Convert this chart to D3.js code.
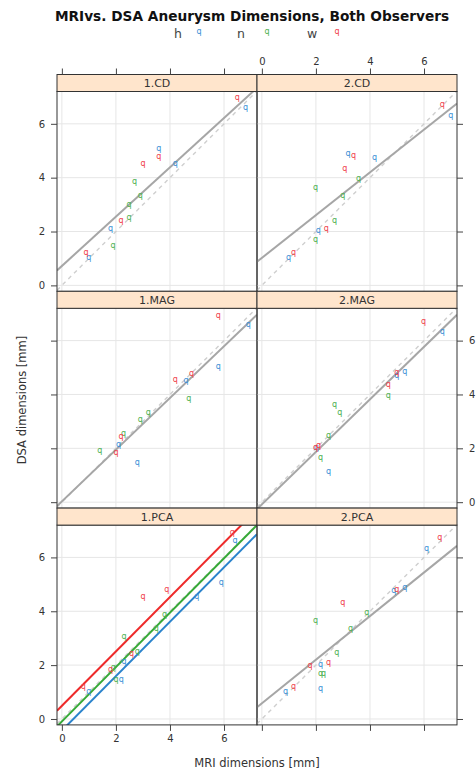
<!DOCTYPE html>
<html>
<head>
<meta charset="utf-8">
<script src="https://cdn.jsdelivr.net/npm/d3@7"></script>
<style>
  html, body { margin: 0; padding: 0; background: #fff; }
  svg { display: block; }
</style>
</head>
<body>
<svg id="chart" width="476" height="777"></svg>
<script>
// ---------- data ----------
const panelNames = ["1.CD", "2.CD", "1.MAG", "2.MAG", "1.PCA", "2.PCA"];
const groups = ["h", "n", "w"];
const groupColors = ["#3a8fd6", "#4cb050", "#f0404a"];
const lineColors = ["#2b83cc", "#36a937", "#ee2a2a"];
const tickValues = [0, 2, 4, 6];

// points [MRI, DSA]
const cd1_h = [[1.0, 0.98], [1.8, 2.07], [3.59, 5.04], [4.2, 4.5], [6.8, 6.56]];
const cd1_n = [[1.89, 1.45], [2.49, 2.49], [2.49, 2.97], [2.69, 3.83], [2.9, 3.29]];
const cd1_w = [[0.89, 1.17], [2.19, 2.37], [3.0, 4.5], [3.59, 4.75], [6.49, 6.93]];

const cd2_h = [[0.99, 0.98], [2.09, 2.0], [3.19, 4.86], [4.17, 4.7], [6.99, 6.28]];
const cd2_n = [[1.99, 1.67], [1.99, 3.59], [2.69, 2.38], [2.99, 3.3], [3.58, 3.93]];
const cd2_w = [[1.17, 1.17], [2.38, 2.07], [3.07, 4.3], [3.39, 4.78], [6.68, 6.68]];

const mag1_h = [[2.1, 2.09], [2.79, 1.44], [4.59, 4.48], [5.79, 4.99], [6.9, 6.54]];
const mag1_n = [[1.4, 1.89], [2.28, 2.5], [2.9, 3.01], [3.2, 3.3], [4.7, 3.81]];
const mag1_w = [[2.0, 1.81], [2.19, 2.41], [4.2, 4.5], [4.8, 4.73], [5.79, 6.9]];

const mag2_h = [[2.01, 2.0], [2.47, 1.1], [4.99, 4.68], [5.29, 4.81], [6.68, 6.28]];
const mag2_n = [[2.17, 1.62], [2.47, 2.43], [2.69, 3.59], [2.88, 3.28], [4.68, 3.91]];
const mag2_w = [[1.99, 1.97], [2.1, 2.08], [4.68, 4.31], [4.99, 4.76], [5.98, 6.67]];

const pca1_h = [[1.0, 0.97], [2.2, 1.44], [2.3, 2.09], [4.99, 4.52], [5.9, 5.04], [6.41, 6.57]];
const pca1_n = [[1.9, 1.86], [2.0, 1.44], [2.3, 3.02], [2.79, 2.47], [3.49, 3.3], [3.8, 3.85]];
const pca1_w = [[0.79, 1.16], [1.8, 1.8], [2.58, 2.39], [3.0, 4.52], [3.88, 4.78], [6.31, 6.9]];

const pca2_h = [[0.88, 0.97], [2.17, 1.09], [2.17, 1.99], [4.88, 4.72], [5.29, 4.83], [6.09, 6.28]];
const pca2_n = [[1.99, 3.6], [2.17, 1.63], [2.28, 1.66], [2.77, 2.41], [3.28, 3.3], [3.88, 3.9]];
const pca2_w = [[1.17, 1.16], [1.78, 1.95], [2.47, 2.06], [2.99, 4.3], [4.99, 4.77], [6.58, 6.68]];

// pooled fit lines (gray), per panel: intercept, slope (null = per-group lines instead)
const fitIntercepts = [0.72, 1.02, 0.03, -0.08, null, 0.58];
const fitSlopes = [0.916, 0.794, 0.96, 0.975, null, 0.81];
// 1.PCA: one line per group (h, n, w), common slope
const pcaGroupIntercepts = [-0.43, -0.09, 0.49];
const pcaGroupSlope = 1.01;

const xDomain = [-0.18, 7.22];
const yDomain = [-0.22, 7.2];

// build table
const panelPoints = [
  [cd1_h, cd1_n, cd1_w], [cd2_h, cd2_n, cd2_w],
  [mag1_h, mag1_n, mag1_w], [mag2_h, mag2_n, mag2_w],
  [pca1_h, pca1_n, pca1_w], [pca2_h, pca2_n, pca2_w]
];

// ---------- layout ----------
const svg = d3.select("#chart");
const left = 57, colW = 200, top0 = 74.5, stripH = 17, panelH = 199.8, rowH = stripH + panelH;
const fontMain = "'DejaVu Sans', Verdana, sans-serif";
const textCol = "#333";

// title
svg.append("text")
  .attr("x", 252).attr("y", 20.5)
  .attr("text-anchor", "middle")
  .attr("font-family", fontMain)
  .attr("font-weight", "bold")
  .attr("font-size", 13.7)
  .attr("fill", "#111")
  .text("MRIvs. DSA Aneurysm Dimensions, Both Observers");

// legend
const legX = [178, 241, 312];
const legQX = [199, 267, 337];
groups.forEach((g, i) => {
  svg.append("text").attr("x", legX[i]).attr("y", 37.5)
    .attr("text-anchor", "middle").attr("font-family", fontMain)
    .attr("font-size", 12.5).attr("fill", "#444").text(g);
  svg.append("text").attr("x", legQX[i]).attr("y", 33).attr("dy", "0.17em")
    .attr("text-anchor", "middle").attr("font-family", fontMain)
    .attr("font-size", 8).attr("fill", groupColors[i]).text("q");
});

const defs = svg.append("defs");

panelNames.forEach((name, i) => {
  const col = i % 2, row = Math.floor(i / 2);
  const x0 = left + col * colW;
  const stripTop = top0 + row * rowH;
  const pTop = stripTop + stripH;
  const pBot = pTop + panelH;
  const xs = d3.scaleLinear().domain(xDomain).range([x0, x0 + colW]);
  const ys = d3.scaleLinear().domain(yDomain).range([pBot, pTop]);

  const clipId = "clip" + i;
  defs.append("clipPath").attr("id", clipId)
    .append("rect").attr("x", x0).attr("y", pTop).attr("width", colW).attr("height", panelH);

  const g = svg.append("g");
  const inner = g.append("g").attr("clip-path", `url(#${clipId})`);

  // grid
  tickValues.forEach(t => {
    inner.append("line").attr("x1", xs(t)).attr("x2", xs(t)).attr("y1", pTop).attr("y2", pBot)
      .attr("stroke", "#e6e6e6").attr("stroke-width", 1);
    inner.append("line").attr("y1", ys(t)).attr("y2", ys(t)).attr("x1", x0).attr("x2", x0 + colW)
      .attr("stroke", "#e6e6e6").attr("stroke-width", 1);
  });

  // identity (dashed)
  inner.append("line")
    .attr("x1", xs(xDomain[0])).attr("y1", ys(xDomain[0]))
    .attr("x2", xs(xDomain[1])).attr("y2", ys(xDomain[1]))
    .attr("stroke", "#cfcfcf").attr("stroke-width", 1.4).attr("stroke-dasharray", "4,4");

  // fit lines
  const drawLine = (a, b, color, w) => {
    inner.append("line")
      .attr("x1", xs(xDomain[0])).attr("y1", ys(a + b * xDomain[0]))
      .attr("x2", xs(xDomain[1])).attr("y2", ys(a + b * xDomain[1]))
      .attr("stroke", color).attr("stroke-width", w);
  };
  if (fitIntercepts[i] !== null) {
    drawLine(fitIntercepts[i], fitSlopes[i], "#a6a6a6", 2);
  } else {
    pcaGroupIntercepts.forEach((a, k) => drawLine(a, pcaGroupSlope, lineColors[k], 2));
  }

  // points
  panelPoints[i].forEach((pts, k) => {
    inner.selectAll(null).data(pts).enter().append("text")
      .attr("x", d => xs(d[0])).attr("y", d => ys(d[1])).attr("dy", "0.17em")
      .attr("text-anchor", "middle")
      .attr("font-family", fontMain).attr("font-size", 8)
      .attr("fill", groupColors[k]).text("q");
  });

  // panel frame
  g.append("rect").attr("x", x0).attr("y", pTop).attr("width", colW).attr("height", panelH)
    .attr("fill", "none").attr("stroke", "#333").attr("stroke-width", 1);

  // strip
  g.append("rect").attr("x", x0).attr("y", stripTop).attr("width", colW).attr("height", stripH)
    .attr("fill", "#ffe5cc").attr("stroke", "#333").attr("stroke-width", 1);
  g.append("text").attr("x", x0 + colW / 2).attr("y", stripTop + stripH / 2)
    .attr("dy", "0.36em").attr("text-anchor", "middle")
    .attr("font-family", fontMain).attr("font-size", 11).attr("fill", textCol)
    .text(name);

  // axes
  const styleAxis = (sel, labels) => {
    sel.select(".domain").remove();
    sel.selectAll(".tick line").attr("stroke", "#444");
    sel.selectAll(".tick text").attr("font-family", fontMain).attr("font-size", 10)
      .attr("fill", textCol);
    if (!labels) sel.selectAll(".tick text").remove();
  };
  if (row === 0) {
    const ax = d3.axisTop(xs).tickValues(tickValues).tickSize(6).tickPadding(4).tickFormat(d3.format("d"));
    const s = svg.append("g").attr("transform", `translate(0,${stripTop})`).call(ax);
    styleAxis(s, col === 1);
  }
  if (row === 2) {
    const ax = d3.axisBottom(xs).tickValues(tickValues).tickSize(6).tickPadding(4).tickFormat(d3.format("d"));
    const s = svg.append("g").attr("transform", `translate(0,${pBot})`).call(ax);
    styleAxis(s, col === 0);
  }
  if (col === 0) {
    const ax = d3.axisLeft(ys).tickValues(tickValues).tickSize(6).tickPadding(6).tickFormat(d3.format("d"));
    const s = svg.append("g").attr("transform", `translate(${x0},0)`).call(ax);
    styleAxis(s, row !== 1);
  }
  if (col === 1) {
    const ax = d3.axisRight(ys).tickValues(tickValues).tickSize(6).tickPadding(6).tickFormat(d3.format("d"));
    const s = svg.append("g").attr("transform", `translate(${x0 + colW},0)`).call(ax);
    styleAxis(s, row === 1);
  }
});

// axis titles
svg.append("text")
  .attr("x", 257).attr("y", 767)
  .attr("text-anchor", "middle").attr("font-family", fontMain)
  .attr("font-size", 11.5).attr("fill", textCol)
  .text("MRI dimensions [mm]");
svg.append("text")
  .attr("transform", "translate(26,400) rotate(-90)")
  .attr("text-anchor", "middle").attr("font-family", fontMain)
  .attr("font-size", 11.5).attr("fill", textCol)
  .text("DSA dimensions [mm]");
</script>
</body>
</html>
